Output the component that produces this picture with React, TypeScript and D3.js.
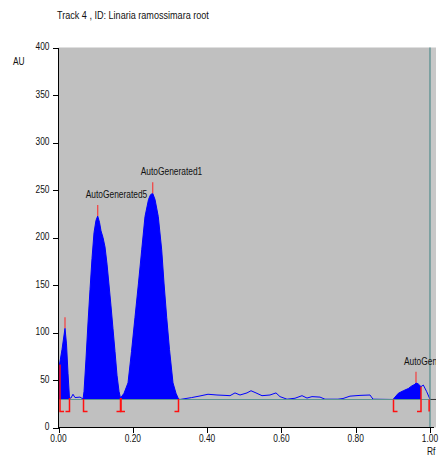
import React from 'react';
import * as d3 from 'd3';

// densitogram track, Rf vs AU
const rf = [
  0.0, 0.0094, 0.0175, 0.0215, 0.0256, 0.0296, 0.0336, 0.039, 0.0444, 0.0579,
  0.066, 0.0687, 0.074, 0.0794, 0.0848, 0.0902, 0.0956, 0.1009, 0.1055, 0.1104,
  0.1144, 0.1198, 0.1252, 0.1306, 0.136, 0.1413, 0.1467, 0.1521, 0.1575, 0.1629,
  0.1669, 0.1763, 0.1871, 0.1965, 0.2059, 0.2153, 0.224, 0.2328, 0.2423, 0.2476,
  0.2536, 0.2598, 0.2686, 0.2778, 0.284, 0.2912, 0.2988, 0.3082, 0.3163, 0.323,
  0.327, 0.3585, 0.3809, 0.4024, 0.4266, 0.4482, 0.4616, 0.4751, 0.4886, 0.5074,
  0.5182, 0.5316, 0.5478, 0.5693, 0.5855, 0.5962, 0.6151, 0.6366, 0.6555, 0.6689,
  0.6824, 0.7039, 0.7173, 0.7523, 0.7658, 0.7846, 0.8116, 0.8385, 0.8466, 0.9004,
  0.9147, 0.9281, 0.9416, 0.9507, 0.9596, 0.9623, 0.9685, 0.9758, 0.982, 0.9911, 1.0,
];
const au = [
  60, 82, 104.5, 88, 57, 31, 31, 35, 31.5, 32,
  30, 38, 72, 110, 145, 178, 205, 218, 222.6, 216,
  207, 200, 190, 172, 150, 128, 104, 80, 55, 38,
  31, 36, 47, 80, 116, 152, 187, 222, 240, 245,
  246.5, 240, 222, 187, 152, 116, 82, 47, 36, 30,
  29.5, 31.5, 33.2, 35, 34.2, 33.8, 33.5, 36.4, 34.2, 36.4,
  38.7, 36.4, 33.5, 34.2, 36.4, 32.5, 29.8, 30.8, 33.5, 31,
  32.5, 32, 29.8, 29.8, 30.5, 33, 33.8, 34.2, 29.8, 29.5,
  36, 38.7, 41, 43.7, 45.5, 47, 45.8, 43, 44.7, 37.7, 29.7,
];

const baselineAU = 29.5;
const peakNames = ['', 'AutoGenerated5', 'AutoGenerated1', 'AutoGenerated2'];
const peakStart = [0.0, 0.066, 0.1669, 0.9004];
const peakEnd = [0.0296, 0.1669, 0.323, 0.9758];
const peakMax = [0.0175, 0.1055, 0.2536, 0.9623];
const markerStart = [0.0027, 0.066, 0.1669, 0.9004];
const trackEnd = 0.999;

const yTicks = [0, 50, 100, 150, 200, 250, 300, 350, 400];
const xTicks = [0, 0.2, 0.4, 0.6, 0.8, 1.0];
const xTickLabels = ['0.00', '0.20', '0.40', '0.60', '0.80', '1.00'];

const FONT = "'Liberation Sans', Arial, sans-serif";
const RED = '#ff1010';

const signalAt = (r: number) => {
  const i = d3.bisectLeft(rf, r);
  if (i <= 0) return au[0];
  if (i >= rf.length) return au[au.length - 1];
  const t = (r - rf[i - 1]) / (rf[i] - rf[i - 1]);
  return au[i - 1] + t * (au[i] - au[i - 1]);
};

// narrow text, like the original's condensed face
const Txt = ({ x, y, size = 10, anchor = 'start', baseline, children }: any) => (
  <text transform={`translate(${x},${y}) scale(0.84,1)`} fontSize={size} textAnchor={anchor}
    dominantBaseline={baseline} fill="#111">{children}</text>
);

export default function App() {
  const width = 443;
  const height = 457;
  const x = d3.scaleLinear().domain([0, 1]).range([58.5, 430]);
  const y = d3.scaleLinear().domain([0, 400]).range([427.5, 47.5]);
  const pts: [number, number][] = rf.map((r, i) => [r, au[i]]);

  const line = d3.line<[number, number]>().x(d => x(d[0])).y(d => y(d[1]));
  const area = d3.area<[number, number]>()
    .x(d => x(d[0]))
    .y0(y(baselineAU))
    .y1(d => y(Math.max(d[1], baselineAU)));

  const fills = peakStart.map((s, k) => {
    const e = peakEnd[k];
    const seg: [number, number][] = [[s, signalAt(s)]];
    pts.forEach(p => { if (p[0] > s && p[0] < e) seg.push(p); });
    seg.push([e, signalAt(e)]);
    return area(seg);
  });

  const yb = y(baselineAU);
  const plotRight = 436;

  return (
    <svg width={width} height={height} style={{ position: 'absolute', left: 0, top: 0, background: '#fff' }}
      fontFamily={FONT}>
      <defs>
        <clipPath id="plot">
          <rect x={58.5} y={30} width={plotRight - 58.5} height={400} />
        </clipPath>
      </defs>
      <Txt x={57} y={19} size={10.8}>Track  4 , ID: Linaria ramossimara root</Txt>

      <rect x={58.5} y={y(400)} width={x(1) - 58.5} height={y(0) - y(400)} fill="#c0c0c0" />
      <rect x={x(1)} y={y(400)} width={plotRight - x(1)} height={y(0) - y(400)} fill="#c8c8c8" />

      {fills.map((d, k) => <path key={k} d={d || ''} fill="#0000ff" />)}
      <path d={line(pts) || ''} fill="none" stroke="#0000ff" strokeWidth={1} />

      <line x1={x(0)} x2={x(1)} y1={yb} y2={yb} stroke="#5c9292" strokeWidth={1.2} />
      <line x1={x(1)} x2={plotRight} y1={yb} y2={yb} stroke="#333" strokeWidth={1} />
      <line x1={x(1)} x2={x(1)} y1={y(400)} y2={y(0)} stroke="#4f8a8a" strokeWidth={1.2} />

      {/* peak start / end brackets */}
      <g fill="none" stroke={RED} strokeWidth={1.5}>
        {markerStart.map((s, k) => {
          const xs = x(s) + 0.5;
          const top = Math.min(y(signalAt(s)), yb);
          return <path key={'s' + k} d={`M${xs},${top}V${yb + 12}H${xs + 4}`} />;
        })}
        {peakEnd.map((e, k) => {
          const xe = x(e);
          const top = Math.min(y(signalAt(e)), yb);
          return <path key={'e' + k} d={`M${xe},${top}V${yb + 12}H${xe - 4}`} />;
        })}
        <path d={`M${x(trackEnd) - 0.5},${yb}V${yb + 12}`} />
        {peakMax.map((m, k) => {
          const xm = x(m);
          const ym = y(signalAt(m));
          return <path key={'m' + k} d={`M${xm},${ym}V${ym - 11}`} stroke="#f04848" strokeWidth={1.3} />;
        })}
      </g>

      <g clipPath="url(#plot)">
        {peakMax.map((m, k) => (
          <Txt key={k} x={x(m) - 12} y={y(signalAt(m)) - 18}>{peakNames[k]}</Txt>
        ))}
      </g>

      {/* axes */}
      <g stroke="#000" strokeWidth={1} shapeRendering="crispEdges">
        <line x1={58.5} x2={58.5} y1={y(400)} y2={y(0)} />
        {yTicks.map(t => <line key={t} x1={53} x2={58.5} y1={Math.round(y(t)) + 0.5} y2={Math.round(y(t)) + 0.5} />)}
        <line x1={58.5} x2={434} y1={y(0)} y2={y(0)} />
        {xTicks.map(t => <line key={t} x1={Math.round(x(t)) + 0.5} x2={Math.round(x(t)) + 0.5} y1={y(0)} y2={y(0) + 5} />)}
      </g>
      {yTicks.map(t => (
        <Txt key={t} x={49.5} y={y(t)} anchor="end" baseline="middle">{t}</Txt>
      ))}
      {xTicks.map((t, i) => (
        <Txt key={t} x={x(t)} y={442} anchor="middle">{xTickLabels[i]}</Txt>
      ))}
      <Txt x={13} y={65}>AU</Txt>
      <Txt x={427} y={455}>Rf</Txt>
    </svg>
  );
}
